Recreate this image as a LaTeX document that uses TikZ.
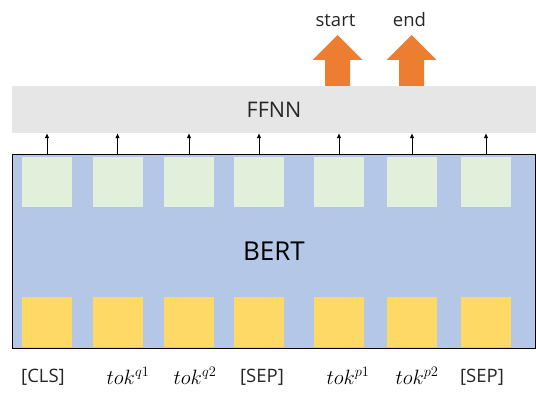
\documentclass[tikz,border=0pt]{standalone}
\usepackage{fontspec}
\setmainfont{Open Sans}
\usetikzlibrary{arrows.meta}
\definecolor{bertblue}{HTML}{B4C7E7}
\definecolor{outgreen}{HTML}{E2EFDA}
\definecolor{ingold}{HTML}{FFD966}
\definecolor{ffnngray}{HTML}{E7E6E6}
\definecolor{spanorange}{HTML}{ED7D31}
\definecolor{labelgray}{HTML}{262626}
\tikzset{
  tokbox/.style={minimum width=50pt, minimum height=50pt, inner sep=0pt},
  up/.style={-{Latex[length=5pt,width=4.5pt]}, line width=0.8pt},
  toklabel/.style={text=labelgray, font=\fontsize{18.5}{22}\selectfont},
  mathlabel/.style={text=black, font=\fontsize{21}{24}\selectfont},
}
\begin{document}
\begin{tikzpicture}[x=1pt,y=-1pt]
\useasboundingbox (0,0) rectangle (536,398);

%ffnn layer
\node[fill=ffnngray, minimum width=524pt, minimum height=47pt, inner sep=0pt,
  text=labelgray, font=\fontsize{21.5}{25}\selectfont] (ffnn) at (274,109.5) {FFNN};

%bert
\node[fill=bertblue, minimum width=523pt, minimum height=193pt, inner sep=0pt,
  text=black, font=\fontsize{26}{30}\selectfont] (bert) at (274,251.5) {BERT};

%token boxes and arrows
\foreach \x [count=\i] in {47,117.5,189,259,339,412,486} {
  \node[tokbox, fill=outgreen] (out\i) at (\x,182) {};
  \node[tokbox, fill=ingold] (in\i) at (\x,322.5) {};
  \draw[up] (out\i |- bert.north) -- (out\i |- ffnn.south);
}
\draw[line width=0.8pt] (bert.north west) rectangle (bert.south east);

%span arrows
\foreach \x/\txt in {337.5/start, 411.5/end} {
  \fill[spanorange] ({\x-12.5},86) -- ({\x-12.5},60) -- ({\x-25},60) -- (\x,35)
    -- ({\x+25},60) -- ({\x+12.5},60) -- ({\x+12.5},86) -- cycle;
  \node[toklabel] (span\txt) at ({\x-2},20) {\txt};
}

%text
\foreach \x/\t [count=\i] in {43/{[CLS]}, 262/{[SEP]}, 482/{[SEP]}} {
  \node[toklabel] (lbl\i) at (\x,377) {\t};
}
\foreach \x/\t [count=\i] in {128/{q1}, 195/{q2}, 348/{p1}, 417/{p2}} {
  \node[mathlabel] (tok\i) at (\x,376) {$tok^{\t}$};
}
\end{tikzpicture}
\end{document}
